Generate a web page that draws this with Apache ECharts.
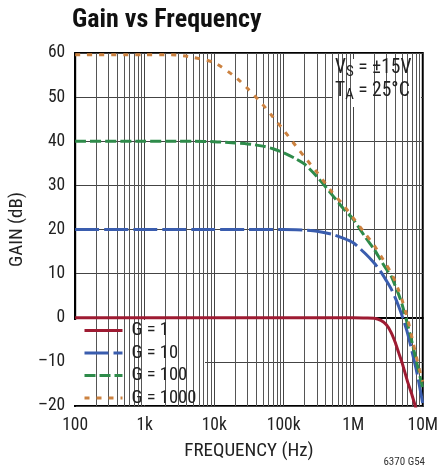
<!DOCTYPE html>
<html>
<head>
<meta charset="utf-8">
<script src="https://cdn.jsdelivr.net/npm/echarts@6/dist/echarts.min.js"></script>
<style>
html,body{margin:0;padding:0;background:#fff;}
#chart{width:441px;height:472px;}
</style>
</head>
<body>
<div id="chart"></div>
<script>
// ---- data ----
const freq = [100, 1000, 2000, 3000, 5000, 10000, 20000, 30000, 50000, 70000, 100000, 150000, 200000, 300000, 500000, 700000, 1000000, 1500000, 2000000, 2500000, 3000000, 3500000, 4000000, 4500000, 5000000, 6000000, 7000000, 8000000, 9000000, 10000000];
const gainG1    = [0, 0, 0, 0, 0, 0, 0, 0, 0, 0, 0, 0, 0, 0, 0, 0, 0, -0.05, -0.1, -0.6, -1.6, -3.3, -5.5, -7.9, -10.0, -14.3, -17.5, -20.6, null, null];
const gainG10   = [20, 20, 20, 20, 20, 20, 20, 20, 20, 20, 20, 19.95, 19.85, 19.6, 18.9, 18.1, 17.0, 14.5, 12.4, 10.4, 8.4, 6.6, 4.6, 2.6, 0.6, -3.3, -7.6, -11.5, -15.5, -19.5];
const gainG100  = [40, 40, 40, 40, 40, 39.9, 39.6, 39.4, 38.9, 38.3, 37.4, 36.0, 34.8, 32.0, 27.8, 25.0, 22.3, 18.2, 15.5, 13.0, 11.0, 9.5, 7.3, 5.3, 3.2, -1.3, -5.5, -9.5, -12.9, -16.0];
const gainG1000 = [59.6, 59.6, 59.6, 59.5, 59.0, 57.8, 54.6, 52.0, 48.3, 45.5, 42.5, 38.9, 36.4, 33.0, 28.4, 25.8, 22.6, 19.0, 16.4, 14.0, 12.0, 10.2, 8.3, 6.2, 4.2, 0.0, -4.5, -8.5, -11.8, -14.5];
const seriesNames = ['G = 1', 'G = 10', 'G = 100', 'G = 1000'];
const xTickValues = [100, 1000, 10000, 100000, 1000000, 10000000];
const xTickLabels = ['100', '1k', '10k', '100k', '1M', '10M'];
const yTicks = [-20, -10, 0, 10, 20, 30, 40, 50, 60];
const yTickLabels = ['\u201320', '\u201310', '0', '10', '20', '30', '40', '50', '60'];

// minor gridline positions (2..9 of each decade)
const minorGrid = [];
for (let d = 100; d < 10000000; d *= 10) {
  for (let k = 2; k <= 9; k++) minorGrid.push(d * k);
}

const FONT = "'Roboto Condensed', 'Liberation Sans', Arial, sans-serif";
const colors = ['#9E1B32', '#3A5DAE', '#2E8B4A', '#CC8240'];
const dashes = ['solid', [24, 5], [11, 4], [5, 7]];
const gains = [gainG1, gainG10, gainG100, gainG1000];

const chart = echarts.init(document.getElementById('chart'), null, {renderer: 'canvas'});

const series = [{
  name: '__grid',
  type: 'line',
  data: [],
  z: 1,
  silent: true,
  markLine: {
    silent: true,
    symbol: ['none', 'none'],
    label: {show: false},
    animation: false,
    lineStyle: {color: '#555', width: 1, type: 'solid'},
    emphasis: {disabled: true},
    data: minorGrid.map(v => ({xAxis: v}))
  }
}];
gains.forEach((g, i) => {
  series.push({
    name: seriesNames[i],
    type: 'line',
    data: freq.map((f, j) => [f, g[j]]),
    showSymbol: false,
    symbol: 'none',
    smooth: 0.25,
    clip: true,
    z: 5,
    lineStyle: {color: colors[i], width: 3, type: dashes[i], cap: 'butt'},
    itemStyle: {color: colors[i]}
  });
});

chart.setOption({
  animation: false,
  backgroundColor: '#fff',
  title: {
    text: 'Gain vs Frequency',
    left: 72, top: 7, padding: 0,
    textStyle: {fontFamily: FONT, fontSize: 26, fontWeight: 'bold', color: '#111'}
  },
  grid: {left: 72, right: 18, top: 53, bottom: 66, show: true, borderColor: '#000', borderWidth: 2, backgroundColor: 'transparent'},
  legend: {
    data: seriesNames,
    orient: 'vertical',
    left: 83, top: 321,
    padding: 0,
    itemWidth: 38, itemHeight: 18, itemGap: 3.5,
    itemStyle: {opacity: 0},
    lineStyle: {width: 3},
    textStyle: {fontFamily: FONT, fontSize: 18.5, color: '#222', lineHeight: 18, padding: [0, 0, 0, 4]},
    z: 10
  },
  xAxis: {
    type: 'log', logBase: 10, min: 100, max: 10000000,
    axisLine: {show: true, lineStyle: {color: '#000', width: 2}},
    axisTick: {show: false},
    splitLine: {show: true, lineStyle: {color: '#444', width: 1}},
    minorSplitLine: {show: false},
    axisLabel: {
      fontFamily: FONT, fontSize: 17.5, color: '#222', margin: 11,
      formatter: v => { const i = xTickValues.findIndex(t => Math.abs(t - v) / t < 1e-6); return i >= 0 ? xTickLabels[i] : ''; }
    },
    name: 'FREQUENCY (Hz)', nameLocation: 'middle', nameGap: 36,
    nameTextStyle: {fontFamily: FONT, fontSize: 19, color: '#222'}
  },
  yAxis: {
    type: 'value', min: -20, max: 60, interval: 10,
    axisLine: {show: true, lineStyle: {color: '#000', width: 2}},
    axisTick: {show: false},
    splitLine: {show: true, lineStyle: {color: '#444', width: 1}},
    axisLabel: {
      fontFamily: FONT, fontSize: 17.5, color: '#222', margin: 10,
      formatter: v => { const i = yTicks.indexOf(v); return i >= 0 ? yTickLabels[i] : ''; }
    },
    name: 'GAIN (dB)', nameLocation: 'middle', nameGap: 45,
    nameTextStyle: {fontFamily: FONT, fontSize: 19, color: '#222'}
  },
  graphic: [
    {type: 'rect', z: 3, shape: {x: 73, y: 320, width: 132, height: 85}, style: {fill: '#fff'}, silent: true},
    {type: 'rect', z: 3, shape: {x: 332, y: 59, width: 89, height: 48}, style: {fill: '#fff'}, silent: true},
    {type: 'text', z: 6, left: 335, top: 58,
     style: {text: 'V{s|S} = \u00b115V', fontFamily: FONT, fontSize: 19.5, fill: '#222',
       rich: {s: {fontFamily: FONT, fontSize: 15, fill: '#222', padding: [8, 0, 0, 0]}}}},
    {type: 'text', z: 6, left: 335, top: 81,
     style: {text: 'T{s|A} = 25\u00b0C', fontFamily: FONT, fontSize: 19.5, fill: '#222',
       rich: {s: {fontFamily: FONT, fontSize: 15, fill: '#222', padding: [8, 0, 0, 0]}}}},
    {type: 'text', z: 6, right: 16, top: 457,
     style: {text: '6370 G54', fontFamily: FONT, fontSize: 11, fill: '#333'}}
  ],
  series: series
});
</script>
</body>
</html>
